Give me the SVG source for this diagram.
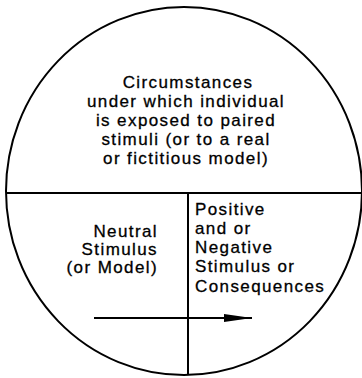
<svg xmlns="http://www.w3.org/2000/svg" width="362" height="378" viewBox="0 0 362 378">
<style>
  .t { font-family: "Liberation Sans", Arial, sans-serif; font-size: 17px; letter-spacing: 1.4px; fill: #000; stroke: #000; stroke-width: 0.3px; }
  .c { text-anchor: middle; }
  .r { text-anchor: end; }
  .ln { stroke: #000; stroke-width: 2; fill: none; }
</style>
<defs>
  <marker id="ah" viewBox="0 0 28 10" refX="28" refY="5" markerWidth="28" markerHeight="10" markerUnits="userSpaceOnUse" orient="auto">
    <path d="M0,1 L28,5 L0,9 Z" fill="#000"/>
  </marker>
</defs>
<rect width="362" height="378" fill="#fff"/>
<g id="circle">
  <ellipse cx="184" cy="191" rx="178" ry="184" class="ln" stroke-width="2.2"/>
</g>
<g id="connectors">
  <line x1="7" y1="193" x2="361" y2="193" class="ln"/>
  <line x1="188" y1="193" x2="188" y2="375" class="ln"/>
  <line x1="94" y1="318" x2="252" y2="318" class="ln" marker-end="url(#ah)"/>
</g>
<g id="circumstances">
  <text class="t c" x="188" y="88">Circumstances</text>
  <text class="t c" x="186" y="107">under which individual</text>
  <text class="t c" x="186" y="126">is exposed to paired</text>
  <text class="t c" x="186" y="145">stimuli (or to a real</text>
  <text class="t c" x="186" y="164">or fictitious model)</text>
</g>
<g id="neutral">
  <text class="t r" x="158" y="237">Neutral</text>
  <text class="t r" x="158" y="255">Stimulus</text>
  <text class="t r" x="158" y="273">(or Model)</text>
</g>
<g id="consequences">
  <text class="t" x="195" y="215">Positive</text>
  <text class="t" x="195" y="234">and or</text>
  <text class="t" x="195" y="253">Negative</text>
  <text class="t" x="195" y="272">Stimulus or</text>
  <text class="t" x="195" y="292">Consequences</text>
</g>
</svg>
